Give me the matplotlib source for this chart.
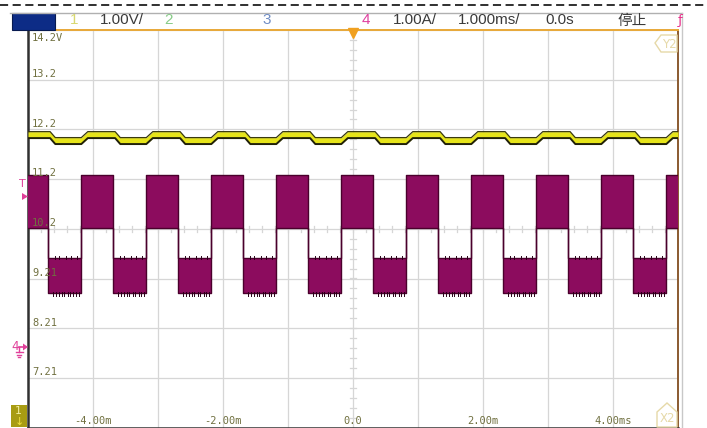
import matplotlib
matplotlib.use('Agg')
import matplotlib.pyplot as plt
from matplotlib.patches import Polygon, Rectangle
import numpy as np

W, H = 707, 428

# ---- data (time in ms, level in ch1 volts) ----
time_ticks = [-4, -2, 0, 2, 4]
time_labels = ['-4.00m', '-2.00m', '0.0', '2.00m', '4.00ms']
volt_levels = [13.21, 12.21, 11.21, 10.21, 9.21, 8.21, 7.21]
volt_labels = ['13.2', '12.2', '11.2', '10.2', '9.21', '8.21', '7.21']

# channel 4 (current) - square wave drawn as a filled band
ch4_fall_t = [-4.69, -3.69, -2.69, -1.69, -0.69, 0.31, 1.31, 2.31, 3.31, 4.31]
ch4_rise_t = [-4.19, -3.19, -2.19, -1.19, -0.19, 0.81, 1.81, 2.81, 3.81, 4.81]
ch4_high = (10.23, 11.29)   # bottom, top of band
ch4_low = (8.91, 9.62)
# ringing spikes on the low plateau, offset from each falling edge
ch4_top_spike_dt = [0.07, 0.13, 0.24, 0.31, 0.40]
ch4_bot_spike_dt = [0.04, 0.08, 0.12, 0.17, 0.21, 0.26, 0.30, 0.35, 0.39, 0.44]

# channel 1 (supply voltage) - thick trace with sloped edges
ch1_fall_t = [-4.66, -3.66, -2.66, -1.66, -0.66, 0.34, 1.34, 2.34, 3.34, 4.34]
ch1_rise_t = [-4.18, -3.18, -2.18, -1.18, -0.18, 0.82, 1.82, 2.82, 3.82, 4.82]
ch1_high = 12.10
ch1_low = 11.98
ch1_fall_len = 0.08
ch1_rise_len = 0.10
ch1_half = 0.065

T0, T1 = -5.0, 5.0
V0, V1 = 6.21, 14.21


def fxy(x, y):
    return x / W, 1 - y / H


def step_band(falls, rises, hi, lo):
    events = sorted([(t, 0) for t in falls] + [(t, 1) for t in rises])
    state = hi if events[0][1] == 0 else lo
    ts, bot, top = [T0], [state[0]], [state[1]]
    for t, kind in events:
        new = lo if kind == 0 else hi
        ts += [t, t]
        bot += [state[0], new[0]]
        top += [state[1], new[1]]
        state = new
    ts.append(T1)
    bot.append(state[0])
    top.append(state[1])
    return np.array(ts), np.array(bot), np.array(top)


def ramp_trace(falls, rises, hi, lo):
    events = sorted([(t, 0) for t in falls] + [(t, 1) for t in rises])
    state = hi if events[0][1] == 0 else lo
    ts, vs = [T0], [state]
    for t, kind in events:
        if kind == 0:
            ts += [t, t + ch1_fall_len]
            vs += [hi, lo]
            state = lo
        else:
            ts += [t, t + ch1_rise_len]
            vs += [lo, hi]
            state = hi
    ts.append(T1)
    vs.append(state)
    return np.array(ts), np.array(vs)


fig = plt.figure(figsize=(W / 100, H / 100), dpi=100)
fig.patch.set_facecolor('white')

ax = fig.add_axes([28 / W, 1 - 427.6 / H, 650 / W, 397.6 / H])
ax.set_xlim(T0, T1)
ax.set_ylim(V0, V1)
ax.set_xticks([])
ax.set_yticks([])

grid_c = '#d6d6d6'
for t in np.arange(-4, 5):
    ax.axvline(t, color=grid_c, lw=0.9, zorder=1)
for v in np.arange(V0 + 1, V1):
    ax.axhline(v, color=grid_c, lw=0.9, zorder=1)

# small ticks on the centre crosshair
vc = (V0 + V1) / 2
for t in np.arange(T0, T1 + 0.01, 0.2):
    ax.plot([t, t], [vc - 0.06, vc + 0.06], color=grid_c, lw=0.9, zorder=1)
for v in np.arange(V0, V1 + 0.01, 0.2):
    ax.plot([-0.05, 0.05], [v, v], color=grid_c, lw=0.9, zorder=1)

# channel 4
spike_c = '#2a0018'
ts, bot, top = step_band(ch4_fall_t, ch4_rise_t, ch4_high, ch4_low)
ax.fill_between(ts, bot, top, color='#8c0c5e', lw=0, zorder=3)
ax.plot(ts, top, color='#4a002c', lw=1.0, zorder=4)
ax.plot(ts, bot, color='#4a002c', lw=1.0, zorder=4)
for tf in ch4_fall_t:
    for dt in ch4_top_spike_dt:
        t = tf + 0.04 + dt
        if t < T1:
            ax.plot([t, t], [ch4_low[1] - 0.02, ch4_low[1] + 0.04], color=spike_c, lw=0.7, zorder=4)
    for dt in ch4_bot_spike_dt:
        t = tf + 0.04 + dt
        if t < T1:
            ax.plot([t, t], [ch4_low[0] + 0.02, ch4_low[0] - 0.06], color=spike_c, lw=0.7, zorder=4)

# channel 1
ts, vs = ramp_trace(ch1_fall_t, ch1_rise_t, ch1_high, ch1_low)
ax.fill_between(ts, vs - ch1_half, vs + ch1_half, color='#e6e41a', lw=0, zorder=5)
ax.plot(ts, vs + ch1_half, color='#3a3a10', lw=0.9, zorder=6)
ax.plot(ts, vs - ch1_half, color='#202008', lw=1.4, zorder=6)

# level labels inside the graticule
lab_c = '#707040'
ax.annotate('14.2V', xy=(T0, V1), xytext=(3, -2), textcoords='offset points',
            ha='left', va='top', fontsize=7.5, family='DejaVu Sans Mono', color=lab_c, zorder=8)
for v, s in zip(volt_levels, volt_labels):
    ax.annotate(s, xy=(T0, v), xytext=(3, 0.5), textcoords='offset points',
                ha='left', va='bottom', fontsize=7.5, family='DejaVu Sans Mono', color=lab_c, zorder=8)
for t, s in zip(time_ticks, time_labels):
    ax.annotate(s, xy=(t, V0), xytext=(0, 1.5), textcoords='offset points',
                ha='center', va='bottom', fontsize=7.5, family='DejaVu Sans Mono', color=lab_c, zorder=8)

for side in ['left', 'bottom']:
    ax.spines[side].set_color('#303030')
    ax.spines[side].set_linewidth(1.8)
ax.spines['top'].set_color('#e8a838')
ax.spines['top'].set_linewidth(1.4)
ax.spines['right'].set_color('#8a5a30')
ax.spines['right'].set_linewidth(1.4)

# trigger position marker (top centre)
ax.plot([0], [V1 - 0.07], marker='v', ms=7, color='#f0a020', clip_on=False, zorder=9)

# Y2 / X2 cursor tags
tag_c = '#e6d9a8'
fig.patches.append(Polygon([fxy(655, 43), fxy(661, 35), fxy(677, 35), fxy(677, 52), fxy(661, 52)],
                           closed=True, fill=False, ec=tag_c, lw=1, transform=fig.transFigure))
fig.text(*fxy(669, 44), 'Y2', color=tag_c, fontsize=8.5, ha='center', va='center')
fig.patches.append(Polygon([fxy(657, 427), fxy(657, 412), fxy(667, 403), fxy(677, 412), fxy(677, 427)],
                           closed=True, fill=False, ec=tag_c, lw=1, transform=fig.transFigure))
fig.text(*fxy(667, 418), 'X2', color=tag_c, fontsize=8.5, ha='center', va='center')

# ---- header bar ----
fig.add_artist(plt.Line2D([0, 1], [1 - 5 / H] * 2, color='#202020', lw=1.3, ls=(0, (4.5, 2.5))))
fig.add_artist(plt.Line2D([10 / W, 682 / W], [1 - 12.5 / H] * 2, color='#b0b0b0', lw=1))
fig.add_artist(plt.Line2D([682 / W] * 2, [0, 1 - 12.5 / H], color='#c8c8c8', lw=1))
fig.patches.append(Rectangle(fxy(12, 30), 43 / W, 17 / H, fc='#0d2c86', ec='#081a50', lw=0.8,
                             transform=fig.transFigure))
hy = 1 - 20.5 / H
hdr = [(70, '1', '#d8d870'), (100, '1.00V/', '#3a3a3a'), (164, '2', '#88cc88'),
       (262, '3', '#6f8cc4'), (362, '4', '#e040a0'), (393, '1.00A/', '#3a3a3a'),
       (458, '1.000ms/', '#3a3a3a'), (545, '0.0s', '#3a3a3a')]
for x, s, c in hdr:
    fig.text(x / W, hy, s, color=c, fontsize=11, family='Liberation Sans', ha='left', va='center')
fig.text(617 / W, hy, '停止', color='#3a3a3a', fontsize=10.5,
         family=['Noto Sans CJK SC', 'DejaVu Sans'], ha='left', va='center')
fig.text(680 / W, hy, 'ƒ', color='#e8308a', fontsize=9.5, ha='center', va='center')

# ---- left margin markers ----
mag = '#e0409a'
fig.text(*fxy(22, 184), 'T', color=mag, fontsize=8, ha='center', va='center')
fig.patches.append(Polygon([fxy(22, 193), fxy(28, 196.5), fxy(22, 200)], closed=True,
                           fc=mag, ec='none', transform=fig.transFigure))
fig.text(*fxy(15, 346), '4', color=mag, fontsize=8.5, ha='center', va='center')
fig.add_artist(plt.Line2D([19 / W, 24 / W], [1 - 347 / H] * 2, color=mag, lw=1.2))
fig.patches.append(Polygon([fxy(23, 343.5), fxy(28, 347), fxy(23, 350.5)], closed=True,
                           fc=mag, ec='none', transform=fig.transFigure))
fig.add_artist(plt.Line2D([19 / W] * 2, [1 - 347 / H, 1 - 352 / H], color=mag, lw=1))
for dy, hw in [(352, 3.5), (354.5, 2.3), (357, 1.1)]:
    fig.add_artist(plt.Line2D([(19 - hw) / W, (19 + hw) / W], [1 - dy / H] * 2, color=mag, lw=1))

fig.patches.append(Rectangle(fxy(11, 427), 16 / W, 22 / H, fc='#a89c12', ec='none',
                             transform=fig.transFigure))
fig.text(*fxy(18, 411), '1', color='#f4f0a0', fontsize=8, ha='center', va='center')
fig.text(*fxy(19, 422), '↓', color='#f0e040', fontsize=8, ha='center', va='center')

fig.savefig('out.png', dpi=100, facecolor='white')
